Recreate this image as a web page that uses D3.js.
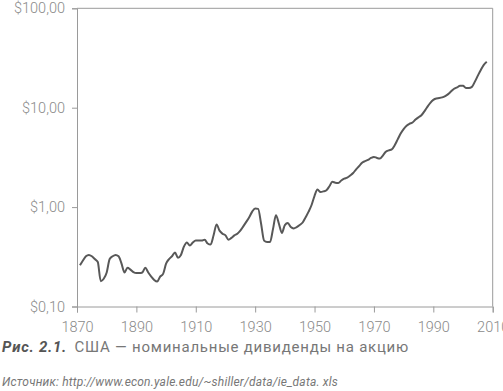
<!DOCTYPE html>
<html><head><meta charset="utf-8">
<script src="https://cdn.jsdelivr.net/npm/d3@7"></script>
<style>
html,body{margin:0;padding:0;background:#fff;}
svg{display:block;}
</style></head>
<body>
<svg id="c" width="503" height="391"></svg>
<script>
const years = [1871,1872,1873,1874,1875,1876,1877,1878,1879,1880,
1881,1882,1883,1884,1885,1886,1887,1888,1889,1890,
1891,1892,1893,1894,1895,1896,1897,1898,1899,1900,
1901,1902,1903,1904,1905,1906,1907,1908,1909,1910,
1911,1912,1913,1914,1915,1916,1917,1918,1919,1920,
1921,1922,1923,1924,1925,1926,1927,1928,1929,1930,
1931,1932,1933,1934,1935,1936,1937,1938,1939,1940,
1941,1942,1943,1944,1945,1946,1947,1948,1949,1950,
1951,1952,1953,1954,1955,1956,1957,1958,1959,1960,
1961,1962,1963,1964,1965,1966,1967,1968,1969,1970,
1971,1972,1973,1974,1975,1976,1977,1978,1979,1980,
1981,1982,1983,1984,1985,1986,1987,1988,1989,1990,
1991,1992,1993,1994,1995,1996,1997,1998,1999,2000,
2001,2002,2003,2004,2005,2006,2007,2008];
const dividends = [0.26,0.29,0.32,0.33,0.32,0.30,0.28,0.18,0.19,0.22,
0.30,0.32,0.33,0.32,0.27,0.22,0.245,0.235,0.222,0.217,
0.217,0.22,0.245,0.22,0.20,0.185,0.178,0.20,0.213,0.27,
0.30,0.32,0.35,0.31,0.33,0.40,0.44,0.41,0.44,0.46,
0.46,0.46,0.47,0.43,0.42,0.52,0.67,0.58,0.54,0.52,
0.47,0.49,0.52,0.54,0.58,0.64,0.71,0.79,0.90,0.97,
0.96,0.68,0.46,0.445,0.445,0.60,0.83,0.68,0.55,0.66,
0.69,0.63,0.61,0.63,0.66,0.70,0.79,0.90,1.05,1.30,
1.50,1.42,1.44,1.48,1.62,1.80,1.76,1.75,1.85,1.93,
1.98,2.08,2.20,2.40,2.58,2.80,2.90,2.98,3.12,3.20,
3.12,3.08,3.30,3.60,3.72,3.80,4.20,4.80,5.50,6.10,
6.60,6.90,7.10,7.60,8.00,8.40,9.20,10.2,11.2,12.0,
12.4,12.5,12.7,13.1,13.7,14.6,15.5,16.0,16.6,16.6,
15.8,15.8,16.2,18.3,21.0,24.0,27.0,29.0];
const yTicks = [0.1, 1, 10, 100];
const xTicks = [1870,1890,1910,1930,1950,1970,1990,2010];
const captionLabel = "Рис. 2.1.";
const captionText = "США — номинальные дивиденды на акцию";
const sourceText = "Источник: http://www.econ.yale.edu/~shiller/data/ie_data. xls";

const svg = d3.select("#c");
const L = 77, R = 492.7, T = 8.3, B = 306.5;
const x = d3.scaleLinear().domain([1870, 2010]).range([L, R]);
const y = d3.scaleLog().domain([0.1, 100]).range([B, T]);
const axisColor = "#9a9a9a", textColor = "#8a8a8a";
const font = "Roboto, 'DejaVu Sans', sans-serif";

svg.append("line").attr("x1", L).attr("x2", R).attr("y1", T).attr("y2", T).attr("stroke", axisColor).attr("stroke-width", 1);
svg.append("line").attr("x1", R).attr("x2", R).attr("y1", T).attr("y2", B).attr("stroke", axisColor).attr("stroke-width", 1);

const fmt = d => "$" + d.toFixed(2).replace(".", ",");
const yAxis = svg.append("g").attr("transform", `translate(${L},0)`)
  .call(d3.axisLeft(y).tickValues(yTicks).tickFormat(fmt).tickSize(5).tickPadding(7));
const xAxis = svg.append("g").attr("transform", `translate(0,${B})`)
  .call(d3.axisBottom(x).tickValues(xTicks).tickFormat(d3.format("d")).tickSize(6).tickPadding(9));
[yAxis, xAxis].forEach(g => {
  g.selectAll("path,line").attr("stroke", axisColor);
  g.selectAll("text").attr("fill", textColor).style("font-family", font).style("font-size", "14.5px").style("font-weight", 300);
});

const line = d3.line().x((d, i) => x(years[i])).y(d => y(d)).curve(d3.curveMonotoneX);
svg.append("path").datum(dividends).attr("d", line)
  .attr("fill", "none").attr("stroke", "#585858").attr("stroke-width", 2).attr("stroke-linejoin", "round");

function fit(t, target) {
  const n = t.text().length;
  const w = t.node().getComputedTextLength();
  const cur = parseFloat(t.style("letter-spacing")) || 0;
  t.style("letter-spacing", (cur + (target - w) / n) + "px");
}

const cap = svg.append("text").attr("x", 2).attr("y", 352).style("font-family", font).style("font-size", "15px").style("letter-spacing", "0px");
cap.append("tspan").text(captionLabel).attr("fill", "#555").style("font-weight", 700).style("font-style", "italic");
cap.append("tspan").text(" " + captionText).attr("fill", "#777").attr("dx", 3);
fit(cap, 404);

const src = svg.append("text").attr("x", 2).attr("y", 386).text(sourceText)
  .style("font-family", font).style("font-size", "12px").style("font-style", "italic").attr("fill", "#777").style("letter-spacing", "0px");
fit(src, 336);
</script>
</body></html>
